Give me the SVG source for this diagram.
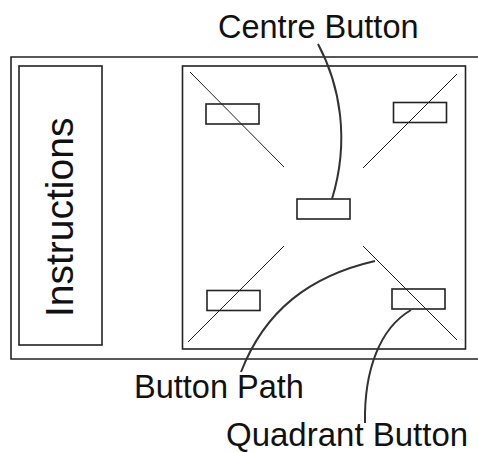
<svg xmlns="http://www.w3.org/2000/svg" width="478" height="452" viewBox="0 0 478 452">
<style>
.frame{fill:none;stroke:#222;stroke-width:1.6}
.btn{fill:none;stroke:#222;stroke-width:1.6}
.diag{fill:none;stroke:#222;stroke-width:1}
.lead{fill:none;stroke:#333;stroke-width:2}
.lbl{font-family:"Liberation Sans",Arial,sans-serif;fill:#111}
</style>
<rect width="478" height="452" fill="#fff"/>
<g id="outer">
<path class="frame" d="M480,57 H11 V359 H480"/>
</g>
<g id="instructions">
<rect class="frame" x="19" y="66" width="83" height="279"/>
<text class="lbl" font-size="39" transform="translate(73,317) rotate(-90)">Instructions</text>
</g>
<g id="panel">
<rect class="frame" x="182.5" y="66" width="283" height="283"/>
</g>
<g id="paths">
<line class="diag" x1="190" y1="72" x2="284" y2="167"/>
<line class="diag" x1="457" y1="74" x2="363" y2="168"/>
<line class="diag" x1="284" y1="246" x2="188" y2="342"/>
<line class="diag" x1="363" y1="246" x2="457" y2="340"/>
</g>
<g id="btn-tl"><rect class="btn" x="206" y="104" width="53" height="20"/></g>
<g id="btn-tr"><rect class="btn" x="393.5" y="102.5" width="53" height="20"/></g>
<g id="btn-centre"><rect class="btn" x="297" y="199" width="53" height="20"/></g>
<g id="btn-bl"><rect class="btn" x="207" y="290.5" width="53" height="20"/></g>
<g id="btn-br"><rect class="btn" x="392" y="289" width="53" height="20"/></g>
<g id="connectors">
<path class="lead" d="M318,44 C340,85 350,140 332,199"/>
<path class="lead" d="M375,261 C310,276 265,310 241,372"/>
<path class="lead" d="M411,310 C380,328 364,370 365,423"/>
</g>
<g id="labels">
<text class="lbl" font-size="32.5" x="218" y="38">Centre Button</text>
<text class="lbl" font-size="32.5" x="134" y="398">Button Path</text>
<text class="lbl" font-size="33" x="226" y="446">Quadrant Button</text>
</g>
</svg>
